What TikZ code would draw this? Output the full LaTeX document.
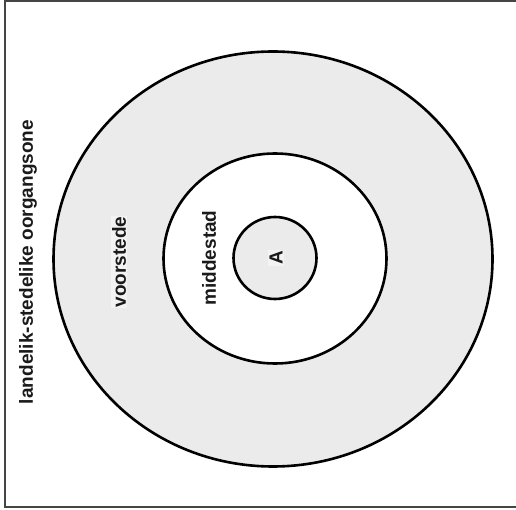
\documentclass[tikz,border=0pt]{standalone}
\usepackage{fontspec}
\setmainfont{Liberation Sans}
\definecolor{ringgrey}{HTML}{EBEBEB}
\definecolor{labelgrey}{HTML}{F3F3F3}
\definecolor{framegrey}{HTML}{454545}
\definecolor{txt}{HTML}{1A1A1A}
\begin{document}
\begin{tikzpicture}[x=1pt,y=-1pt,
  ring/.style={draw=black,line width=2.6pt},
  lbl/.style={rotate=90,text=txt,font=\fontsize{19}{22}\selectfont\bfseries,inner sep=1pt},
  lblbox/.style={lbl,fill=labelgrey}]
\useasboundingbox (0,0) rectangle (516,510);
\clip (0,0) rectangle (516,510);
\fill[white] (0,0) rectangle (516,510);
\draw[framegrey,line width=2pt] (5,1.2) rectangle (540,506.5);
\draw[ring,fill=ringgrey] (273,259) ellipse [x radius=219.5,y radius=207.5];
\draw[ring,fill=white] (275,258.5) ellipse [x radius=111.5,y radius=105];
\draw[ring,fill=ringgrey] (275,258) ellipse [x radius=41.5,y radius=41];
\node[lbl] (zone) at (28,262) {landelik-stedelike oorgangsone};
\node[lblbox] (sub) at (119,262) {voorstede};
\node[lbl] (mid) at (209,258) {middestad};
\node[lblbox] (core) at (276,258) {A};
\end{tikzpicture}
\end{document}
